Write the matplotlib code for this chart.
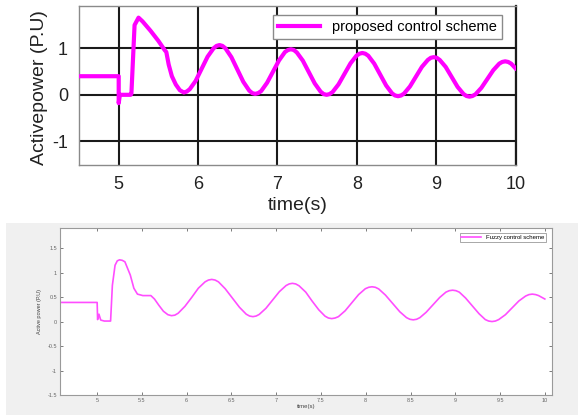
"""Active power response: proposed control scheme vs fuzzy control scheme."""
import matplotlib

matplotlib.use("Agg")
import matplotlib.pyplot as plt
from matplotlib.patches import Rectangle

plt.rcParams["font.family"] = ["Liberation Sans", "DejaVu Sans"]
plt.rcParams["axes.unicode_minus"] = False

# proposed control scheme (top panel)
t_prop = [4.5, 5.0, 5.0, 5.015, 5.15, 5.16, 5.2, 5.25, 5.3, 5.4, 5.5, 5.58, 5.6,
          5.63, 5.67, 5.72, 5.77, 5.82, 5.857,
          5.895, 5.97, 6.045, 6.12, 6.195, 6.2325, 6.27, 6.3075,
          6.345, 6.42, 6.495, 6.57, 6.645, 6.6825, 6.72, 6.7575,
          6.795, 6.87, 6.945, 7.02, 7.095, 7.1325, 7.17, 7.2075,
          7.245, 7.32, 7.395, 7.47, 7.545, 7.5825, 7.62, 7.6575,
          7.695, 7.77, 7.845, 7.92, 7.995, 8.0325, 8.07, 8.1075,
          8.145, 8.22, 8.295, 8.37, 8.445, 8.4825, 8.52, 8.5575,
          8.595, 8.67, 8.745, 8.82, 8.895, 8.9325, 8.97, 9.0075,
          9.045, 9.12, 9.195, 9.27, 9.345, 9.3825, 9.42, 9.4575,
          9.495, 9.57, 9.645, 9.72, 9.795, 9.8325, 9.87, 9.9075,
          9.945, 10.0]
p_prop = [0.40, 0.40, -0.18, 0.0, 0.0, 0.02, 1.50, 1.66, 1.58, 1.38, 1.16, 0.96, 0.92,
          0.65, 0.40, 0.22, 0.10, 0.05, 0.07,
          0.12, 0.30, 0.56, 0.82, 1.00, 1.052, 1.07, 1.052,
          1.00, 0.81, 0.545, 0.28, 0.09, 0.037, 0.02, 0.037,
          0.08, 0.26, 0.50, 0.74, 0.92, 0.963, 0.98, 0.963,
          0.91, 0.735, 0.49, 0.245, 0.066, 0.016, 0.0, 0.016,
          0.06, 0.225, 0.45, 0.675, 0.84, 0.884, 0.90, 0.884,
          0.84, 0.67, 0.435, 0.20, 0.03, -0.015, -0.03, -0.015,
          0.026, 0.18, 0.39, 0.60, 0.75, 0.796, 0.81, 0.796,
          0.75, 0.60, 0.385, 0.17, 0.017, -0.026, -0.04, -0.026,
          0.01, 0.15, 0.34, 0.53, 0.67, 0.707, 0.72, 0.707,
          0.67, 0.57]

# fuzzy control scheme (bottom panel)
t_fuzzy = [4.585, 5.0, 5.005, 5.02, 5.04, 5.08, 5.15, 5.17, 5.2, 5.225, 5.25, 5.28, 5.31,
           5.37, 5.41, 5.45, 5.51, 5.6,
           5.64, 5.69, 5.74, 5.79, 5.83, 5.8675,
           5.905, 5.98, 6.055, 6.13, 6.205, 6.2425, 6.28, 6.3175,
           6.355, 6.43, 6.51, 6.59, 6.665, 6.7025, 6.74, 6.775,
           6.81, 6.885, 6.96, 7.035, 7.11, 7.145, 7.18, 7.2175,
           7.255, 7.33, 7.4, 7.475, 7.545, 7.5825, 7.62, 7.6575,
           7.695, 7.77, 7.845, 7.92, 7.995, 8.0325, 8.07, 8.1075,
           8.145, 8.22, 8.3, 8.38, 8.455, 8.4925, 8.53, 8.5675,
           8.605, 8.675, 8.75, 8.825, 8.895, 8.9325, 8.97, 9.0075,
           9.045, 9.115, 9.19, 9.265, 9.335, 9.3725, 9.41, 9.4475,
           9.485, 9.56, 9.635, 9.71, 9.785, 9.8225, 9.86, 9.8975,
           9.93, 10.0]
p_fuzzy = [0.39, 0.39, 0.04, 0.15, 0.03, 0.01, 0.01, 0.74, 1.15, 1.24, 1.26, 1.25, 1.22,
           0.95, 0.68, 0.56, 0.53, 0.53,
           0.46, 0.33, 0.21, 0.14, 0.12, 0.13,
           0.17, 0.31, 0.49, 0.68, 0.81, 0.847, 0.86, 0.847,
           0.81, 0.67, 0.48, 0.29, 0.15, 0.112, 0.10, 0.112,
           0.145, 0.27, 0.44, 0.61, 0.735, 0.768, 0.78, 0.768,
           0.73, 0.60, 0.42, 0.24, 0.11, 0.072, 0.06, 0.072,
           0.10, 0.22, 0.385, 0.55, 0.67, 0.699, 0.71, 0.699,
           0.665, 0.54, 0.37, 0.20, 0.08, 0.046, 0.035, 0.046,
           0.08, 0.19, 0.34, 0.49, 0.60, 0.63, 0.64, 0.63,
           0.60, 0.48, 0.32, 0.16, 0.04, 0.01, 0.0, 0.01,
           0.04, 0.14, 0.28, 0.42, 0.52, 0.55, 0.56, 0.55,
           0.53, 0.46]

xt_top = [5, 6, 7, 8, 9, 10]
yt_top = [-1, 0, 1]
xt_bot = [5, 5.5, 6, 6.5, 7, 7.5, 8, 8.5, 9, 9.5, 10]
xt_bot_lbl = ["5", "5.5", "6", "6.5", "7", "7.5", "8", "8.5", "9", "9.5", "10"]
yt_bot = [-1.5, -1, -0.5, 0, 0.5, 1, 1.5]
yt_bot_lbl = ["-1.5", "-1", "-0.5", "0", "0.5", "1", "1.5"]

fig = plt.figure(figsize=(5.78, 4.15), dpi=100)
fig.patches.append(Rectangle((0.0104, 0), 0.99, 0.4627, transform=fig.transFigure,
                             facecolor="#f0f0f0", edgecolor="none", zorder=-5))

# ---- top panel
ax = fig.add_axes([0.1367, 0.6024, 0.7552, 0.3831])
ax.plot(t_prop, p_prop, color="#ff00ff", lw=3, label="proposed control scheme",
        solid_joinstyle="round", zorder=3)
ax.set_xlim(4.5, 10)
ax.set_ylim(-1.51, 1.91)
ax.set_xticks(xt_top)
ax.set_yticks(yt_top)
ax.grid(color="#1a1a1a", lw=1.5)
ax.tick_params(length=0, labelsize=13, pad=8, colors="#222222")
for s in ax.spines.values():
    s.set_color("#8a8a8a")
    s.set_linewidth(1.0)
ax.spines["right"].set_color("#1a1a1a")
ax.spines["right"].set_linewidth(1.6)
ax.set_xlabel("time(s)", fontsize=14, color="#222222")
ax.xaxis.label.set_va("center")
ax.xaxis.set_label_coords(0.5, -0.252)
ax.set_ylabel("Activepower (P.U)", fontsize=14, color="#222222")
ax.yaxis.label.set_va("center")
ax.yaxis.set_label_coords(-0.09, 0.487)
leg = ax.legend(loc="upper right", bbox_to_anchor=(0.969, 0.943), borderaxespad=0,
                fontsize=10.5, handlelength=2.9, fancybox=False, framealpha=1,
                edgecolor="#8a8a8a", borderpad=0.35)
leg.get_frame().set_linewidth(1.0)

# ---- bottom panel (MATLAB look)
ab = fig.add_axes([0.1038, 0.0482, 0.8512, 0.4024])
ab.set_facecolor("white")
ab.plot(t_fuzzy, p_fuzzy, color="#ff4dff", lw=1.2, label="Fuzzy control scheme",
        solid_joinstyle="round")
ab.set_xlim(4.585, 10.08)
ab.set_ylim(-1.5, 1.91)
ab.set_xticks(xt_bot, xt_bot_lbl)
ab.set_yticks(yt_bot, yt_bot_lbl)
ab.tick_params(direction="in", length=2, width=0.6, labelsize=4, pad=2,
               colors="#666666", top=True, right=True)
for s in ab.spines.values():
    s.set_color("#9a9a9a")
    s.set_linewidth(0.8)
ab.set_xlabel("time(s)", fontsize=4.3, color="#444444")
ab.xaxis.label.set_va("center")
ab.xaxis.set_label_coords(0.5, -0.07)
ab.set_ylabel("Active power (P.U)", fontsize=4, color="#444444")
ab.yaxis.label.set_va("center")
ab.yaxis.set_label_coords(-0.041, 0.5)
lg2 = ab.legend(loc="upper right", bbox_to_anchor=(0.988, 0.97), borderaxespad=0,
                fontsize=4.3, handlelength=3.3, fancybox=False, framealpha=1,
                edgecolor="#9a9a9a", borderpad=0.3)
lg2.get_frame().set_linewidth(0.6)

fig.savefig("out.png", dpi=100)
